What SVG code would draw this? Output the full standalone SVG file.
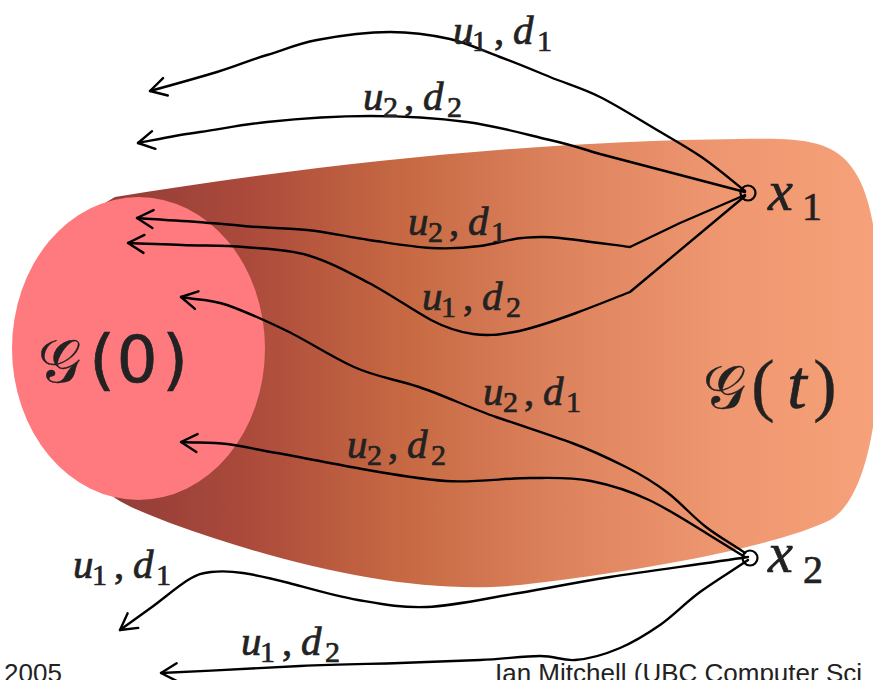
<svg xmlns="http://www.w3.org/2000/svg" width="873" height="680" viewBox="0 0 873 680">
<defs>
<linearGradient id="tubeGrad" gradientUnits="userSpaceOnUse" x1="90" y1="0" x2="870" y2="0">
<stop offset="0" stop-color="#8f3a38"/>
<stop offset="0.2" stop-color="#ab4a3b"/>
<stop offset="0.4" stop-color="#c66943"/>
<stop offset="0.6" stop-color="#dc825d"/>
<stop offset="0.8" stop-color="#ee966f"/>
<stop offset="1" stop-color="#f6a179"/>
</linearGradient>
<marker id="ah" viewBox="-20 -12 24 24" markerWidth="24" markerHeight="24" refX="0" refY="0" orient="auto" markerUnits="userSpaceOnUse">
<path d="M-16,-9 L0,0 L-16,9" fill="none" stroke="#000" stroke-width="2.4" stroke-linecap="round" stroke-linejoin="round"/>
</marker>
</defs>
<style>
.edge{fill:none;stroke:#000;stroke-width:2.4;stroke-linecap:round;stroke-linejoin:round;marker-end:url(#ah)}
.m{font-family:"Liberation Serif","DejaVu Serif",serif;fill:#222;stroke:#222;stroke-width:0.7}
.it{font-style:italic;font-size:41px}
.rm{font-size:41px}
.sub{font-size:30px}
.cal{font-family:"DejaVu Serif","DejaVu Sans",serif;font-style:normal;stroke-width:0.4}
.node{fill:none;stroke:#000;stroke-width:2.2}
.foot{font-family:"Liberation Sans",Arial,sans-serif;font-size:26px;fill:#222}
</style>
<rect width="873" height="680" fill="#fff"/>

<g id="G-t">
<path d="M115,197 C300,167 520,141 740,139 C800,138 830,140 850,165 C875,195 880,260 880,330 C880,420 865,500 830,520 C780,545 650,570 520,585 C420,595 300,570 170,523 C150,515 130,508 115,498 C45,440 25,262 63,228 Z" fill="url(#tubeGrad)"/>
<text class="m" y="408"><tspan class="cal" x="703" style="font-size:60px">𝒢</tspan><tspan x="763" text-anchor="middle" style="font-size:70px;stroke-width:0.4">(</tspan><tspan x="797" text-anchor="middle" style="font-size:70px;font-style:italic">t</tspan><tspan x="825" text-anchor="middle" style="font-size:70px;stroke-width:0.4">)</tspan></text>
</g>

<g id="G-0">
<ellipse cx="138.5" cy="348.5" rx="126.5" ry="151.5" fill="#fe7a7f"/>
<text class="m" y="382"><tspan class="cal" x="38" style="font-size:60px">𝒢</tspan><tspan x="102" text-anchor="middle" style="font-family:'DejaVu Sans',sans-serif;font-size:66px">(</tspan><tspan x="137" text-anchor="middle" style="font-family:'DejaVu Sans',sans-serif;font-size:64px">0</tspan><tspan x="175" text-anchor="middle" style="font-family:'DejaVu Sans',sans-serif;font-size:66px">)</tspan></text>
</g>

<g id="connectors">
<path class="edge" d="M745,191 C730,179 715,166 700,156 S674,140 657,130 S618,106 600,97 S567,84 550,77 S517,63 500,57 S468,43 450,39 S412,32 390,32 S338,36 317,40 S284,50 267,55 S237,66 217,72 S172,85 150,91"/>
<path class="edge" d="M745,192 L600,154 C583,149 572,145 550,140 S497,126 467,122 S403,116 370,116 S295,119 267,122 S222,129 200,132 S159,139 138,143"/>
<path class="edge" d="M745,195 L680,223 L630,247 C607,244 578,240 560,238 S535,237 522,238 S495,244 480,246 S450,249 431,248 S390,243 369,240 S328,232 307,230 S265,228 244,226 S200,222 182,221 S152,219 137,218"/>
<path class="edge" d="M745,196 L630,292 C612,299 595,306 576,313 S531,329 514,332 S487,336 473,334 S448,329 431,320 S390,294 369,283 S328,261 307,255 S265,249 244,247 S201,246 182,245 S146,244 128,243"/>
<path class="edge" d="M745,553 C732,544 719,537 706,527 S681,503 668,493 S642,475 626,467 S594,451 572,443 S522,426 496,417 S443,395 419,387 S376,377 354,367 S306,340 285,330 S244,311 227,305 S196,300 181,297"/>
<path class="edge" d="M745,557 C732,549 722,543 706,533 S668,509 649,500 S611,485 591,481 S554,478 530,478 S474,483 446,481 S390,474 362,469 S300,457 277,453 S243,446 227,444 S196,443 181,442"/>
<path class="edge" d="M748,557 C702,564 648,571 610,577 S550,588 519,593 S454,606 427,607 S381,604 358,600 S308,588 289,583 S256,575 243,573 S220,571 211,572 S198,574 188,580 S163,599 152,607 S131,622 120,630"/>
<path class="edge" d="M748,560 C732,571 715,581 700,592 S673,616 660,625 S634,642 620,648 S588,659 575,660 S556,656 540,656 S503,659 480,660 S430,662 400,663 S340,664 300,666 S207,671 161,673"/>
</g>

<g id="edge-labels" class="m">
<text><tspan class="it" x="453" y="44">u</tspan><tspan class="sub" x="472" y="51">1</tspan><tspan class="rm" x="494" y="44">,</tspan><tspan class="it" x="513" y="44">d</tspan><tspan class="sub" x="537" y="51">1</tspan></text>
<text><tspan class="it" x="363" y="110">u</tspan><tspan class="sub" x="383" y="117">2</tspan><tspan class="rm" x="404" y="110">,</tspan><tspan class="it" x="423" y="110">d</tspan><tspan class="sub" x="447" y="117">2</tspan></text>
<text><tspan class="it" x="408" y="235">u</tspan><tspan class="sub" x="428" y="242">2</tspan><tspan class="rm" x="449" y="235">,</tspan><tspan class="it" x="468" y="235">d</tspan><tspan class="sub" x="491" y="242">1</tspan></text>
<text><tspan class="it" x="422" y="310">u</tspan><tspan class="sub" x="441" y="317">1</tspan><tspan class="rm" x="463" y="310">,</tspan><tspan class="it" x="482" y="310">d</tspan><tspan class="sub" x="506" y="317">2</tspan></text>
<text><tspan class="it" x="483" y="405">u</tspan><tspan class="sub" x="503" y="412">2</tspan><tspan class="rm" x="524" y="405">,</tspan><tspan class="it" x="543" y="405">d</tspan><tspan class="sub" x="566" y="412">1</tspan></text>
<text><tspan class="it" x="347" y="458">u</tspan><tspan class="sub" x="367" y="465">2</tspan><tspan class="rm" x="388" y="458">,</tspan><tspan class="it" x="407" y="458">d</tspan><tspan class="sub" x="431" y="465">2</tspan></text>
<text><tspan class="it" x="73" y="578">u</tspan><tspan class="sub" x="92" y="585">1</tspan><tspan class="rm" x="114" y="578">,</tspan><tspan class="it" x="133" y="578">d</tspan><tspan class="sub" x="156" y="585">1</tspan></text>
<text><tspan class="it" x="241" y="655">u</tspan><tspan class="sub" x="260" y="662">1</tspan><tspan class="rm" x="282" y="655">,</tspan><tspan class="it" x="301" y="655">d</tspan><tspan class="sub" x="325" y="662">2</tspan></text>
</g>

<g id="x1">
<circle class="node" cx="748" cy="193" r="7.5"/>
<text class="m"><tspan x="768" y="210" style="font-size:56px;font-style:italic">x</tspan><tspan x="802" y="220" style="font-size:40px">1</tspan></text>
</g>

<g id="x2">
<circle class="node" cx="750" cy="558" r="7.5"/>
<text class="m"><tspan x="768" y="572" style="font-size:56px;font-style:italic">x</tspan><tspan x="803" y="583" style="font-size:40px">2</tspan></text>
</g>

<g id="footer">
<text class="foot" x="4" y="682">2005</text>
<text class="foot" x="495" y="682">Ian Mitchell (UBC Computer Sci</text>
</g>
</svg>
